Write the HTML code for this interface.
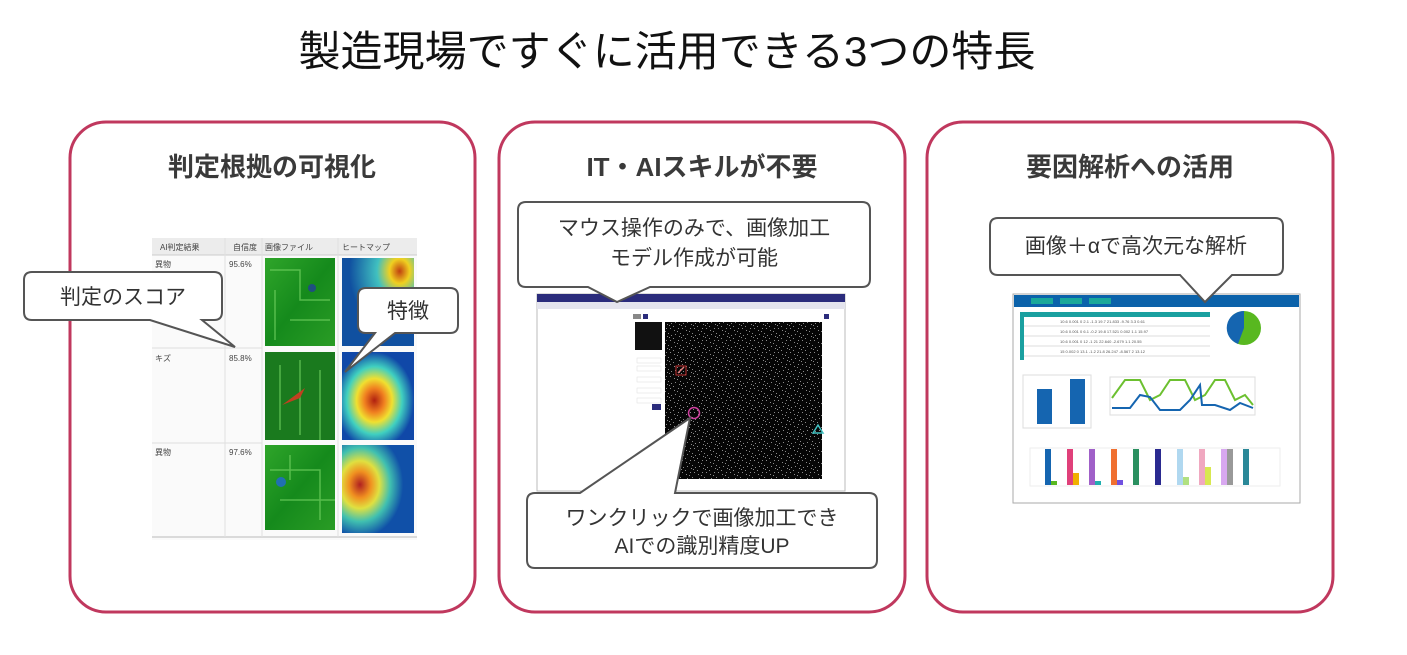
<!DOCTYPE html>
<html><head><meta charset="utf-8"><style>
html,body{margin:0;padding:0;background:#fff;}
svg{display:block;}
text{font-family:"Liberation Sans","Noto Sans CJK JP",sans-serif;}
</style></head><body>
<svg width="1407" height="655" viewBox="0 0 1407 655" xmlns="http://www.w3.org/2000/svg">
<defs>
<pattern id="noise" width="12" height="12" patternUnits="userSpaceOnUse">
<rect width="12" height="12" fill="#060606"/>
<g fill="#8a8a8a">
<rect x="1" y="2" width="1" height="1"/><rect x="5" y="7" width="1" height="1"/><rect x="9" y="1" width="1" height="1"/><rect x="10" y="4" width="1" height="1"/><rect x="3" y="10" width="1" height="1"/><rect x="8" y="9" width="1" height="1"/><rect x="6" y="4" width="1" height="1"/><rect x="11" y="11" width="1" height="1"/><rect x="2" y="6" width="1" height="1"/><rect x="7" y="0" width="1" height="1"/>
</g></pattern>
<linearGradient id="pcb" x1="0" y1="0" x2="1" y2="1"><stop offset="0" stop-color="#2fa52a"/><stop offset="0.5" stop-color="#158a1c"/><stop offset="1" stop-color="#2a9c25"/></linearGradient>
<radialGradient id="heat1" cx="0.8" cy="0.15" r="0.7"><stop offset="0" stop-color="#c04010"/><stop offset="0.2" stop-color="#f0d020"/><stop offset="0.45" stop-color="#40c0c0"/><stop offset="1" stop-color="#1050a0"/></radialGradient>
<radialGradient id="heat2" cx="0.45" cy="0.55" r="0.55"><stop offset="0" stop-color="#b02010"/><stop offset="0.25" stop-color="#f08020"/><stop offset="0.45" stop-color="#f0e030"/><stop offset="0.7" stop-color="#40d0c0"/><stop offset="1" stop-color="#1048a8"/></radialGradient>
<radialGradient id="heat3" cx="0.25" cy="0.45" r="0.6"><stop offset="0" stop-color="#b02020"/><stop offset="0.25" stop-color="#f09020"/><stop offset="0.45" stop-color="#e0e040"/><stop offset="0.7" stop-color="#40c0b0"/><stop offset="1" stop-color="#1050a8"/></radialGradient>
</defs>

<text x="667" y="66" font-size="42" fill="#111" text-anchor="middle" textLength="737" lengthAdjust="spacingAndGlyphs">製造現場ですぐに活用できる3つの特長</text>

<g fill="none" stroke="#c0385e" stroke-width="3">
<rect x="70" y="122" width="405" height="490" rx="36"/>
<rect x="499" y="122" width="406" height="490" rx="36"/>
<rect x="927" y="122" width="406" height="490" rx="36"/>
</g>
<g font-size="26" font-weight="bold" fill="#3a3a3a" text-anchor="middle">
<text x="272" y="176">判定根拠の可視化</text>
<text x="702" y="176">IT・AIスキルが不要</text>
<text x="1130" y="176">要因解析への活用</text>
</g>

<!-- Card1 table -->
<g>
<rect x="152" y="238" width="265" height="302" fill="#fafafa"/>
<rect x="152" y="238" width="265" height="17" fill="#ececec"/>
<line x1="152" y1="255" x2="417" y2="255" stroke="#ccc"/>
<line x1="152" y1="348" x2="262" y2="348" stroke="#ddd"/>
<line x1="152" y1="443" x2="262" y2="443" stroke="#ddd"/>
<line x1="152" y1="537" x2="417" y2="537" stroke="#bbb"/>
<line x1="225" y1="238" x2="225" y2="537" stroke="#e0e0e0"/>
<line x1="262" y1="238" x2="262" y2="537" stroke="#e0e0e0"/>
<line x1="338" y1="238" x2="338" y2="537" stroke="#e0e0e0"/>
<g font-size="8" fill="#444">
<text x="160" y="250">AI判定結果</text><text x="233" y="250">自信度</text><text x="265" y="250">画像ファイル</text><text x="342" y="250">ヒートマップ</text>
<text x="155" y="267">異物</text><text x="229" y="267">95.6%</text>
<text x="155" y="361">キズ</text><text x="229" y="361">85.8%</text>
<text x="155" y="455">異物</text><text x="229" y="455">97.6%</text>
</g>
<rect x="265" y="258" width="70" height="88" fill="url(#pcb)"/>
<rect x="265" y="352" width="70" height="88" fill="#1a7a1e"/>
<rect x="265" y="445" width="70" height="85" fill="url(#pcb)"/>
<g stroke="#6fd060" stroke-width="1.5" fill="none" opacity="0.7">
<path d="M270,270 H300 V300 H330 M275,290 V340 M290,320 H330 M280,365 V430 M300,360 V435 M320,370 V440 M270,470 H320 V520 M280,500 H335 M290,455 V480"/>
</g>
<circle cx="312" cy="288" r="4" fill="#1f4f80"/>
<path d="M282,405 L305,388 L300,398 Z" fill="#c04020"/>
<circle cx="281" cy="482" r="5" fill="#2070b0"/>
<rect x="342" y="258" width="72" height="88" fill="url(#heat1)"/>
<rect x="342" y="352" width="72" height="88" fill="url(#heat2)"/>
<rect x="342" y="445" width="72" height="88" fill="url(#heat3)"/>
</g>

<!-- Card2 screenshot -->
<g>
<rect x="537" y="294" width="308" height="197" fill="#fff" stroke="#bbb"/>
<rect x="537" y="294" width="308" height="8" fill="#2b2c7c"/>
<rect x="537" y="302" width="308" height="7" fill="#e4e4ee"/>
<rect x="633" y="314" width="8" height="5" fill="#888"/><rect x="643" y="314" width="5" height="5" fill="#2b2c7c"/>
<rect x="824" y="314" width="5" height="5" fill="#2b2c7c"/>
<rect x="635" y="322" width="27" height="28" fill="#111"/>
<g fill="#fff" stroke="#ddd" stroke-width="0.5">
<rect x="637" y="358" width="24" height="5"/><rect x="637" y="366" width="24" height="5"/><rect x="637" y="377" width="24" height="5"/><rect x="637" y="388" width="24" height="5"/><rect x="637" y="398" width="24" height="5"/>
</g>
<rect x="652" y="404" width="9" height="6" fill="#2b2c7c"/>
<rect x="665" y="322" width="157" height="157" fill="url(#noise)"/>
<rect x="676" y="366" width="10" height="9" fill="none" stroke="#c03030"/>
<line x1="678" y1="373" x2="684" y2="367" stroke="#e08080" stroke-width="1.5"/>
<circle cx="694" cy="413" r="5.5" fill="none" stroke="#d040a0" stroke-width="1.5"/>
<path d="M813,433 L818,425 L823,433 Z" fill="none" stroke="#40c0c0" stroke-width="1.5"/>
</g>

<!-- Card3 dashboard -->
<g>
<rect x="1013" y="294" width="287" height="209" fill="#fff" stroke="#aaa"/>
<rect x="1014" y="295" width="285" height="12" fill="#0b62aa"/>
<g fill="#1aa89a"><rect x="1031" y="298" width="22" height="6"/><rect x="1060" y="298" width="22" height="6"/><rect x="1089" y="298" width="22" height="6"/></g>
<rect x="1020" y="312" width="190" height="5" fill="#1aa0a0"/>
<rect x="1020" y="312" width="4" height="48" fill="#1aa0a0"/>
<g stroke="#ddd"><line x1="1024" y1="326" x2="1210" y2="326"/><line x1="1024" y1="336" x2="1210" y2="336"/><line x1="1024" y1="346" x2="1210" y2="346"/><line x1="1024" y1="356" x2="1210" y2="356"/></g>
<g font-size="4" fill="#555"><text x="1060" y="323">10.6 0.001 0 2.1 -1.3 19.7 21.833 -9.76 3.3 0.61</text><text x="1060" y="333">10.6 0.001 0 6.1 -0.2 19.8 17.521 0.002 1.1 15.97</text><text x="1060" y="343">10.6 0.001 0 12 -1 21 22.640 -2.679 1.1 20.55</text><text x="1060" y="353">15 0.002 0 13.1 -1.2 21.8 26.247 -8.567 2 13.12</text></g>
<circle cx="1244" cy="328" r="17" fill="#58b820"/>
<path d="M1244,328 L1244,311 A17,17 0 0,0 1238,344 Z" fill="#1565b0"/>
<rect x="1023" y="375" width="68" height="53" fill="#fff" stroke="#ddd"/>
<rect x="1037" y="389" width="15" height="35" fill="#1565b0"/>
<rect x="1070" y="379" width="15" height="45" fill="#1565b0"/>
<rect x="1110" y="377" width="145" height="38" fill="#fff" stroke="#ddd"/>
<polyline points="1112,398 1125,380 1140,380 1150,400 1160,395 1170,380 1185,380 1195,400 1205,395 1215,380 1225,380 1235,400 1245,395 1253,405" fill="none" stroke="#6cc030" stroke-width="2"/>
<polyline points="1112,408 1130,408 1140,395 1150,397 1160,410 1180,410 1190,400 1200,385 1202,405 1215,405 1230,410 1240,403 1253,408" fill="none" stroke="#1565b0" stroke-width="2"/>
<rect x="1030" y="448" width="250" height="38" fill="#fff" stroke="#eee"/>
<g>
<rect x="1045" y="449" width="6" height="36" fill="#1565b0"/><rect x="1051" y="481" width="6" height="4" fill="#58b820"/>
<rect x="1067" y="449" width="6" height="36" fill="#e0407a"/><rect x="1073" y="473" width="6" height="12" fill="#f0b000"/>
<rect x="1089" y="449" width="6" height="36" fill="#a060c8"/><rect x="1095" y="481" width="6" height="4" fill="#20b0b0"/>
<rect x="1111" y="449" width="6" height="36" fill="#f07030"/><rect x="1117" y="480" width="6" height="5" fill="#7050e0"/>
<rect x="1133" y="449" width="6" height="36" fill="#2a9060"/>
<rect x="1155" y="449" width="6" height="36" fill="#2a2a90"/>
<rect x="1177" y="449" width="6" height="36" fill="#b0d8f0"/><rect x="1183" y="477" width="6" height="8" fill="#b0e080"/>
<rect x="1199" y="449" width="6" height="36" fill="#f0a8c0"/><rect x="1205" y="467" width="6" height="18" fill="#d8e850"/>
<rect x="1221" y="449" width="6" height="36" fill="#d8a8f0"/><rect x="1227" y="449" width="6" height="36" fill="#999"/>
<rect x="1243" y="449" width="6" height="36" fill="#2a8898"/>
</g>
</g>

<!-- Callouts -->
<g fill="#fff" stroke="#555" stroke-width="2" stroke-linejoin="miter">
<path d="M32,272 H214 Q222,272 222,280 V312 Q222,320 214,320 H202 L235,347 L150,320 H32 Q24,320 24,312 V280 Q24,272 32,272 Z"/>
<path d="M366,288 H450 Q458,288 458,296 V325 Q458,333 450,333 H395 L345,372 L375,333 H366 Q358,333 358,325 V296 Q358,288 366,288 Z"/>
<path d="M526,202 H862 Q870,202 870,210 V279 Q870,287 862,287 H650 L617,302 L588,287 H526 Q518,287 518,279 V210 Q518,202 526,202 Z"/>
<path d="M535,493 H580 L690,418 L675,493 H869 Q877,493 877,501 V560 Q877,568 869,568 H535 Q527,568 527,560 V501 Q527,493 535,493 Z"/>
<path d="M998,218 H1275 Q1283,218 1283,226 V267 Q1283,275 1275,275 H1232 L1205,302 L1180,275 H998 Q990,275 990,267 V226 Q990,218 998,218 Z"/>
</g>
<g font-size="21" fill="#333" text-anchor="middle">
<text x="123" y="304">判定のスコア</text>
<text x="408" y="318">特徴</text>
<text x="694" y="235">マウス操作のみで、画像加工</text>
<text x="694" y="265">モデル作成が可能</text>
<text x="702" y="525">ワンクリックで画像加工でき</text>
<text x="702" y="553">AIでの識別精度UP</text>
<text x="1136" y="253">画像＋αで高次元な解析</text>
</g>
</svg>
</body></html>
